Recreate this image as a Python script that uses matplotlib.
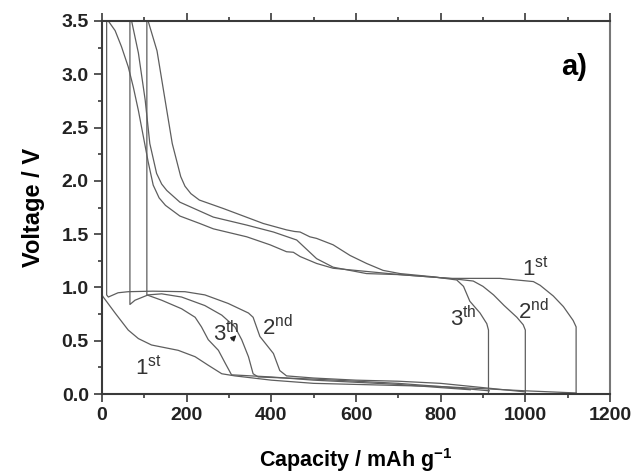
import matplotlib
matplotlib.use("Agg")
import matplotlib.pyplot as plt
from matplotlib.ticker import MultipleLocator

plt.rcParams["font.family"] = ["Liberation Sans", "DejaVu Sans"]
plt.rcParams["mathtext.fontset"] = "custom"
plt.rcParams["mathtext.rm"] = "Liberation Sans"
plt.rcParams["mathtext.bf"] = "Liberation Sans:bold"

LINE = "#5e5e5e"
AXIS = "#3a3a3a"

# discharge branches (start with the relaxation drop from 3.5 V)
dis1_cap = [0, 3, 31, 62, 86, 117, 180, 220, 251, 283, 314, 400, 500, 600, 700, 800, 900, 1000, 1120]
dis1_v = [0.93, 0.91, 0.76, 0.60, 0.52, 0.46, 0.41, 0.35, 0.27, 0.19, 0.17, 0.13, 0.10, 0.09, 0.08, 0.07, 0.05, 0.03, 0.01]

dis2_cap = [11, 11, 15, 38, 62, 120, 196, 243, 298, 346, 357, 373, 405, 420, 436, 500, 600, 700, 800, 900, 1000]
dis2_v = [3.5, 0.93, 0.91, 0.95, 0.96, 0.965, 0.96, 0.93, 0.85, 0.76, 0.72, 0.54, 0.38, 0.22, 0.17, 0.15, 0.13, 0.12, 0.10, 0.06, 0.02]

dis3_cap = [66, 66, 78, 109, 141, 188, 243, 283, 314, 330, 346, 357, 369, 500, 600, 700, 800, 915]
dis3_v = [3.5, 0.84, 0.88, 0.93, 0.94, 0.91, 0.83, 0.74, 0.63, 0.51, 0.35, 0.19, 0.16, 0.14, 0.12, 0.10, 0.07, 0.03]

dis4_cap = [106, 106, 120, 141, 188, 220, 235, 251, 275, 291, 306, 400, 500, 600, 700, 800, 870]
dis4_v = [3.5, 0.93, 0.91, 0.88, 0.80, 0.72, 0.63, 0.51, 0.41, 0.29, 0.18, 0.16, 0.13, 0.11, 0.09, 0.06, 0.04]

# charge branches (plotted back from the end of discharge)
chg1_cap = [15, 31, 46, 62, 74, 86, 98, 109, 121, 135, 150, 184, 231, 263, 342, 397, 436, 452, 468, 507,
            546, 625, 704, 822, 940, 1019, 1035, 1066, 1090, 1113, 1120, 1120]
chg1_v = [3.5, 3.41, 3.26, 3.07, 2.88, 2.66, 2.41, 2.18, 1.96, 1.84, 1.77, 1.67, 1.60, 1.55, 1.475, 1.40, 1.335,
          1.33, 1.29, 1.225, 1.18, 1.15, 1.12, 1.085, 1.085, 1.055, 1.02, 0.92, 0.82, 0.69, 0.63, 0.0]

chg2_cap = [70, 86, 102, 113, 129, 141, 153, 184, 263, 342, 405, 460, 507, 546, 625, 704, 822, 877, 900,
            925, 950, 980, 995, 1000, 1000]
chg2_v = [3.5, 3.20, 2.76, 2.35, 2.07, 1.97, 1.91, 1.80, 1.66, 1.585, 1.52, 1.445, 1.27, 1.19, 1.13, 1.12,
          1.085, 1.06, 1.01, 0.93, 0.83, 0.72, 0.65, 0.60, 0.0]

chg3_cap = [109, 130, 149, 166, 186, 196, 210, 230, 287, 381, 436, 455, 468, 491, 507, 546, 586, 625, 664,
            704, 782, 838, 854, 869, 893, 909, 913, 913]
chg3_v = [3.5, 3.22, 2.76, 2.35, 2.04, 1.95, 1.88, 1.82, 1.74, 1.60, 1.54, 1.525, 1.52, 1.475, 1.46, 1.40,
          1.30, 1.225, 1.16, 1.13, 1.10, 1.07, 1.01, 0.87, 0.76, 0.66, 0.60, 0.0]

fig = plt.figure(figsize=(6.35, 4.75), dpi=100)
ax = fig.add_axes([0.1606, 0.1705, 0.80, 0.7853])

for cap, v in [(dis1_cap, dis1_v), (dis2_cap, dis2_v), (dis3_cap, dis3_v), (dis4_cap, dis4_v),
               (chg1_cap, chg1_v), (chg2_cap, chg2_v), (chg3_cap, chg3_v)]:
    ax.plot(cap, v, color=LINE, lw=0.9)

ax.set_xlim(0, 1200)
ax.set_ylim(0, 3.5)
ax.xaxis.set_major_locator(MultipleLocator(200))
ax.xaxis.set_minor_locator(MultipleLocator(100))
ax.yaxis.set_major_locator(MultipleLocator(0.5))
ax.yaxis.set_minor_locator(MultipleLocator(0.25))
ax.yaxis.set_major_formatter(plt.FormatStrFormatter("%.1f"))
ax.tick_params(which="both", direction="out", top=True, right=False, colors=AXIS, width=1.2)
ax.tick_params(which="major", length=6)
ax.tick_params(which="minor", length=3)
ax.tick_params(labelsize=14)
for lab in ax.get_xticklabels() + ax.get_yticklabels():
    lab.set_fontweight("bold")
    lab.set_color("#222222")
for side in ["left", "bottom", "top"]:
    ax.spines[side].set_color(AXIS)
    ax.spines[side].set_linewidth(1.5)
ax.spines["right"].set_color("#777777")
ax.spines["right"].set_linewidth(1.5)

ax.set_xlabel("Capacity / mAh g$^{\\mathbf{-1}}$", fontsize=15.5, fontweight="bold", labelpad=16)
ax.set_ylabel("Voltage / V", fontsize=17, fontweight="bold", labelpad=12)

ax.text(1115, 3.07, "a)", fontsize=21, fontweight="bold", ha="center", va="center")

lbl = dict(fontsize=16, color="#333333", ha="left", va="baseline")
ax.text(991, 1.115, "1$^{\\rm st}$", **lbl)
ax.text(983, 0.705, "2$^{\\rm nd}$", **lbl)
ax.text(822, 0.635, "3$^{\\rm th}$", **lbl)
ax.text(78, 0.185, "1$^{\\rm st}$", **lbl)
ax.text(377, 0.555, "2$^{\\rm nd}$", **lbl)
ax.text(263, 0.495, "3$^{\\rm th}$", **lbl)
ax.annotate("", xy=(322, 0.57), xytext=(302, 0.49),
            arrowprops=dict(arrowstyle="-|>", color="#222222", lw=0.9, mutation_scale=8))

fig.savefig("out.png", dpi=100)
